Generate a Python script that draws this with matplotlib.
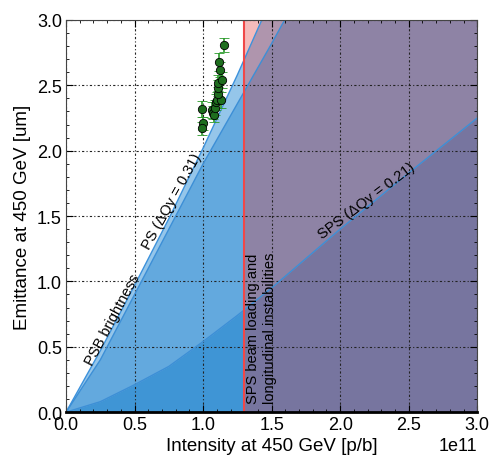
import numpy as np
import matplotlib.pyplot as plt
from matplotlib.ticker import MultipleLocator

plt.rcParams['font.family'] = ['Liberation Sans', 'DejaVu Sans']

# limit curves, intensity in units of 1e11 p/b
# (last points sit above the plot, they only close the shaded areas)
psb_x = [0.0, 0.25, 0.5, 0.75, 1.0, 1.25, 1.5, 3.0]
psb_y = [0.0, 0.47, 0.97, 1.48, 2.02, 2.58, 3.17, 6.5]

ps_x = [0.0, 0.25, 0.5, 0.75, 1.0, 1.25, 1.5, 1.7, 3.0]
ps_y = [0.0, 0.40, 0.90, 1.40, 1.90, 2.36, 2.82, 3.20, 5.8]

sps_x = [0.0, 0.25, 0.5, 0.75, 1.0, 1.25, 1.5, 2.0, 2.5, 3.0]
sps_y = [0.0, 0.08, 0.21, 0.35, 0.54, 0.74, 0.95, 1.40, 1.83, 2.25]

sps_limit = 1.3  # beam loading limit

# measurements
meas_x = [0.99, 1.00, 0.995, 1.065, 1.072, 1.078, 1.085, 1.095, 1.10,
          1.13, 1.11, 1.105, 1.112, 1.136, 1.125, 1.114, 1.153]
meas_y = [2.32, 2.21, 2.17, 2.31, 2.29, 2.27, 2.33, 2.37, 2.39,
          2.39, 2.43, 2.48, 2.52, 2.54, 2.62, 2.68, 2.81]
meas_err = [0.06, 0.05, 0.05, 0.06, 0.05, 0.05, 0.06, 0.06, 0.06,
            0.06, 0.06, 0.06, 0.06, 0.06, 0.06, 0.07, 0.055]

scale = 1e11
psb_x = np.array(psb_x) * scale
ps_x = np.array(ps_x) * scale
sps_x = np.array(sps_x) * scale
meas_x = np.array(meas_x) * scale

fig = plt.figure(figsize=(4.93, 4.56), dpi=100)
ax = fig.add_axes([0.134, 0.094, 0.834, 0.860])

ax.fill_between(psb_x, 0, psb_y, color='#95c6ea', lw=0)
ax.fill_between(ps_x, 0, ps_y, color='#63a9de', lw=0)
ax.fill_between(sps_x, 0, sps_y, color='#3f95d5', lw=0)
ax.plot(psb_x, psb_y, color='#3d92dc', lw=1)
ax.plot(ps_x, ps_y, color='#3d8fd6', lw=1)
ax.plot(sps_x, sps_y, color='#3d8fd6', lw=1)

ax.axvspan(sps_limit * scale, 3 * scale, color='#e03c3c', alpha=0.35, lw=0, zorder=1.2)
ax.axvline(sps_limit * scale, color='#f04848', lw=1.5)

ax.errorbar(meas_x, meas_y, yerr=meas_err, fmt='o', color='#2a9a2a',
            mfc='#1e6e1e', mec='black', mew=0.6, ms=6, capsize=3.5,
            elinewidth=1.2, capthick=1.2, zorder=5)

ax.text(0.34 * scale, 0.71, 'PSB brightness', rotation=62, fontsize=10.5,
        ha='center', va='center')
ax.text(0.77 * scale, 1.62, 'PS (\u0394Qy = 0.31)', rotation=61, fontsize=10.5,
        ha='center', va='center')
ax.text(2.19 * scale, 1.62, 'SPS (\u0394Qy = 0.21)', rotation=37, fontsize=10.5,
        ha='center', va='center')
ax.text(1.315 * scale, 0.07, 'SPS beam loading and\nlongitudinal instabilities',
        rotation=90, fontsize=10.5, ha='left', va='bottom', multialignment='left',
        linespacing=1.25)

ax.set_xlim(0, 3 * scale)
ax.set_ylim(0, 3)
ax.xaxis.set_major_locator(MultipleLocator(0.5 * scale))
ax.xaxis.set_minor_locator(MultipleLocator(0.1 * scale))
ax.yaxis.set_major_locator(MultipleLocator(0.5))
ax.yaxis.set_minor_locator(MultipleLocator(0.1))
ax.tick_params(which='both', direction='in', top=True, right=True, labelsize=13, pad=3)
ax.tick_params(which='major', length=5)
ax.tick_params(which='minor', length=2.5)
ax.xaxis.get_offset_text().set_fontsize(13)

ax.grid(True, color='#222222', linestyle=(0, (2, 2, 1, 2)), lw=0.8)

for s in ['top', 'left', 'right']:
    ax.spines[s].set_color('#444444')
ax.spines['bottom'].set_linewidth(2)

ax.set_xlabel('Intensity at 450 GeV [p/b]', fontsize=13.5, labelpad=3)
ax.set_ylabel('Emittance at 450 GeV [um]', fontsize=13.5, labelpad=4)

fig.savefig('out.png', dpi=100)
